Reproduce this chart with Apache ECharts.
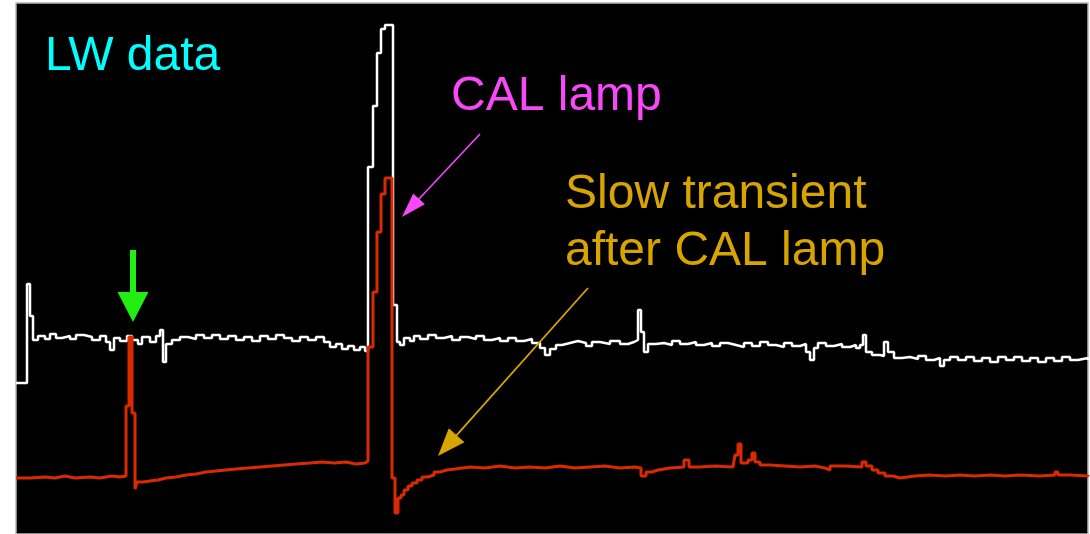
<!DOCTYPE html>
<html>
<head>
<meta charset="utf-8">
<title>LW data</title>
<script src="https://cdn.jsdelivr.net/npm/echarts@6/dist/echarts.min.js"></script>
<style>
  html, body { margin: 0; padding: 0; background: #ffffff; }
  #chart { width: 1090px; height: 534px; }
</style>
</head>
<body>
<div id="chart"></div>
<script>
// Sample index range and signal range of the LW channel display
const sampleRange = [0, 1072];
const signalRange = [0, 531];

// LW raw trace (upper, white): [sample, signal], held until the next point
const lwRaw = [
  [0,151],[11,250],[14,218],[17,194],[22,198],[29,195],[34,200],[40,196],[46,198],[54,195],
  [60,199],[68,197],[76,194],[84,198],[90,192],[94,184],[98,196],[104,193],[111,198],[116,194],
  [122,190],[126,197],[134,192],[140,198],[144,204],[147,172],[150,190],[156,194],[164,197],[172,195],
  [180,199],[188,196],[196,199],[204,195],[212,198],[220,194],[228,197],[236,193],[244,198],[252,195],
  [260,199],[268,196],[276,193],[284,197],[292,194],[300,197],[308,192],[314,187],[320,190],[326,185],
  [332,188],[338,184],[344,187],[349,183],[352,367],[357,428],[361,481],[365,505],[369,509],[377,229],
  [381,192],[384,189],[388,196],[394,193],[398,198],[404,195],[412,199],[420,196],[428,198],[436,194],
  [444,197],[452,195],[460,198],[468,194],[476,196],[484,193],[492,196],[500,193],[508,195],[516,191],
  [524,186],[529,179],[534,185],[540,189],[546,191],[554,193],[562,191],[570,188],[576,192],[584,190],
  [594,193],[604,190],[612,192],[618,194],[622,224],[625,202],[628,182],[632,190],[640,191],[648,189],
  [656,193],[664,190],[672,192],[680,189],[688,191],[696,188],[704,191],[712,189],[720,187],[728,191],
  [736,188],[744,192],[752,189],[760,187],[768,191],[776,188],[784,190],[790,182],[794,174],[798,186],
  [802,191],[810,188],[818,190],[826,187],[834,189],[840,186],[844,189],[847,199],[850,182],[856,179],
  [864,178],[868,192],[872,182],[878,176],[886,177],[894,175],[902,178],[910,174],[918,176],[924,168],
  [928,174],[934,177],[942,174],[950,177],[958,173],[966,176],[974,172],[982,177],[990,174],[998,177],
  [1006,173],[1014,176],[1022,172],[1030,176],[1038,173],[1046,177],[1054,174],[1062,176],[1072,174]
];

// LW corrected trace (lower, red)
const lwCorrected = [
  [0,56],[14,57],[29,56],[39,58],[49,56],[59,57],[74,56],[84,58],[96,57],[104,58],
  [110,128],[113,197],[116,121],[119,45],[121,52],[127,53],[134,54],[142,56],[150,57],[160,59],
  [170,60],[180,62],[190,63],[200,64],[210,65],[220,66],[232,67],[244,68],[256,69],[268,70],
  [280,71],[294,72],[306,71],[318,72],[330,70],[340,71],[349,73],[352,187],[357,242],[361,302],
  [365,340],[369,356],[376,56],[379,21],[382,36],[385,39],[388,44],[392,48],[396,51],[401,54],
  [406,57],[412,59],[418,62],[424,64],[431,65],[439,67],[454,66],[469,68],[484,66],[499,67],
  [514,66],[529,68],[544,66],[559,67],[574,68],[589,66],[604,67],[619,66],[625,58],[630,62],
  [636,64],[642,66],[654,67],[668,74],[673,67],[684,68],[699,67],[717,68],[719,79],[722,90],
  [725,71],[732,74],[736,81],[739,72],[744,69],[754,68],[769,67],[784,68],[799,66],[809,64],
  [814,68],[829,67],[846,72],[850,68],[856,64],[862,61],[869,58],[877,56],[884,58],[899,59],
  [914,58],[929,59],[944,58],[959,59],[974,58],[989,59],[1004,58],[1024,59],[1039,62],[1042,59],
  [1054,58],[1072,59]
];

// Callout arrows: [from, to] in sample / signal units
const greenArrow = [[117,284],[117,227]];
const calArrow = [[464,400],[394.5,326]];
const transientArrow = [[572,246],[431.3,88.4]];

const chart = echarts.init(document.getElementById('chart'), null, { renderer: 'canvas' });

function arrow(pts, color, width, head) {
  return [
    { coord: pts[0], symbol: 'none', lineStyle: { color: color, width: width, type: 'solid' } },
    { coord: pts[1], symbol: 'triangle', symbolSize: head, itemStyle: { color: color } }
  ];
}

const font = '"Liberation Sans", Arial, sans-serif';

chart.setOption({
  animation: false,
  backgroundColor: '#ffffff',
  grid: {
    left: 16, right: 2, top: 3, bottom: 0,
    show: true,
    backgroundColor: '#000000',
    borderColor: '#b4b4b4',
    borderWidth: 1.5
  },
  xAxis: {
    type: 'value', min: sampleRange[0], max: sampleRange[1],
    show: false
  },
  yAxis: {
    type: 'value', min: signalRange[0], max: signalRange[1],
    show: false
  },
  series: [
    {
      name: 'LW raw', type: 'line', step: 'end', data: lwRaw,
      showSymbol: false, silent: true,
      lineStyle: { color: '#ffffff', width: 2.5 }, z: 2
    },
    {
      name: 'LW corrected', type: 'line', step: 'end', data: lwCorrected,
      showSymbol: false, silent: true,
      lineStyle: { color: '#dc2a00', width: 3 }, z: 3
    },
    {
      name: 'callouts', type: 'line', data: [], z: 4,
      markLine: {
        silent: true,
        animation: false,
        label: { show: false },
        emphasis: { disabled: true },
        data: [
          arrow(greenArrow, '#22ee11', 6, [31, 30]),
          arrow(calArrow, '#f848f8', 1.6, [16, 25]),
          arrow(transientArrow, '#d8a400', 1.8, [21, 28])
        ]
      }
    }
  ],
  graphic: [
    { type: 'text', left: 45, top: 33, style: { text: 'LW data', fill: '#00ffff', font: '48px ' + font } },
    { type: 'text', left: 451, top: 73, style: { text: 'CAL lamp', fill: '#f848f8', font: '48px ' + font } },
    { type: 'text', left: 565, top: 166, style: { text: 'Slow transient\nafter CAL lamp', fill: '#d8a400', font: '48px ' + font, lineHeight: 57 } }
  ]
});
</script>
</body>
</html>
